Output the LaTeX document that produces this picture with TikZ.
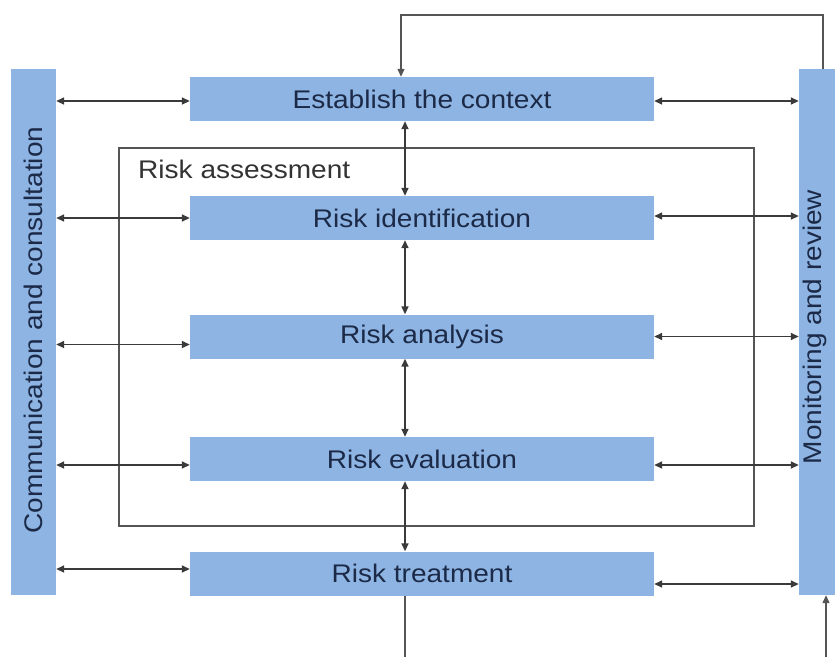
\documentclass[tikz,border=0pt]{standalone}
\usepackage{fontspec}
\setmainfont{Liberation Sans}[FakeStretch=1.1]
\usetikzlibrary{arrows.meta}
\definecolor{boxblue}{HTML}{8DB4E2}
\definecolor{txtnavy}{HTML}{1C2A48}
\definecolor{linegray}{HTML}{3A3A3A}
\definecolor{framegray}{HTML}{555555}
\tikzset{
  stepbox/.style={draw=none, fill=boxblue, minimum width=464pt, minimum height=44pt,
    inner sep=0pt, text=txtnavy, font=\fontsize{25.5}{28}\selectfont},
  sidebar/.style={draw=none, fill=boxblue, inner sep=0pt, text=txtnavy,
    font=\fontsize{25.5}{28}\selectfont},
  dbl/.style={draw=linegray, line width=1.6pt,
    {Triangle[length=8pt,width=7pt]}-{Triangle[length=8pt,width=7pt]}},
  sgl/.style={draw=framegray, line width=1.3pt, -{Triangle[length=8pt,width=7pt]}},
  plain/.style={draw=framegray, line width=1.3pt},
}
\begin{document}
\begin{tikzpicture}[x=1pt, y=-1pt]
\useasboundingbox (0,0) rectangle (836,657);
% side bars
\node[sidebar, minimum width=45pt, minimum height=526pt] (leftbar) at (33.5,332) {};
\node[rotate=90, text=txtnavy, font=\fontsize{25.5}{28}\selectfont] (lefttxt) at (33.5,330) {Communication and consultation};
\node[sidebar, minimum width=36pt, minimum height=526pt] (rightbar) at (817,332) {};
\node[rotate=90, text=txtnavy, font=\fontsize{25.5}{28}\selectfont] (righttxt) at (815,327) {Monitoring and review};
% risk assessment frame
\draw[plain] (119,148) rectangle (754,526);
\node[anchor=north west, inner sep=0pt, text=black!80, font=\fontsize{25.5}{28}\selectfont] (ralabel) at (138,160) {Risk assessment};
% process boxes
\node[stepbox] (establish) at (422,99) {Establish the context};
\node[stepbox] (ident) at (422,218) {Risk identification};
\node[stepbox] (analysis) at (422,336.5) {Risk analysis};
\node[stepbox] (evaluation) at (422,459) {Risk evaluation};
\node[stepbox] (treatment) at (422,573.5) {Risk treatment};
% column for vertical arrows
\coordinate (vx) at (405,0);
\draw[dbl] (vx |- establish.south) -- (vx |- ident.north);
\draw[dbl] (vx |- ident.south) -- (vx |- analysis.north);
\draw[dbl] (vx |- analysis.south) -- (vx |- evaluation.north);
\draw[dbl] (vx |- evaluation.south) -- (vx |- treatment.north);
% left arrows
\draw[dbl] ([yshift=-2pt]establish.west -| leftbar.east) -- ([yshift=-2pt]establish.west);
\draw[dbl] (ident.west -| leftbar.east) -- (ident.west);
\draw[dbl] ([yshift=-8pt]analysis.west -| leftbar.east) -- ([yshift=-8pt]analysis.west);
\draw[dbl] ([yshift=-6pt]evaluation.west -| leftbar.east) -- ([yshift=-6pt]evaluation.west);
\draw[dbl] ([yshift=4.5pt]treatment.west -| leftbar.east) -- ([yshift=4.5pt]treatment.west);
% right arrows
\draw[dbl] ([yshift=-2pt]establish.east) -- ([yshift=-2pt]establish.east -| rightbar.west);
\draw[dbl] ([yshift=2pt]ident.east) -- ([yshift=2pt]ident.east -| rightbar.west);
\draw[dbl] (analysis.east) -- (analysis.east -| rightbar.west);
\draw[dbl] ([yshift=-6pt]evaluation.east) -- ([yshift=-6pt]evaluation.east -| rightbar.west);
\draw[dbl] ([yshift=-10.5pt]treatment.east) -- ([yshift=-10.5pt]treatment.east -| rightbar.west);
% feedback loop top
\coordinate (fbR) at (823,15);
\coordinate (fbL) at (401,15);
\draw[sgl] (fbR |- rightbar.north) -- (fbR) -- (fbL) -- (fbL |- establish.north);
% bottom lines
\coordinate (botL) at (405,657);
\coordinate (botR) at (826,657);
\draw[plain] (botL |- treatment.south) -- (botL);
\draw[sgl] (botR) -- (botR |- rightbar.south);
\end{tikzpicture}
\end{document}
